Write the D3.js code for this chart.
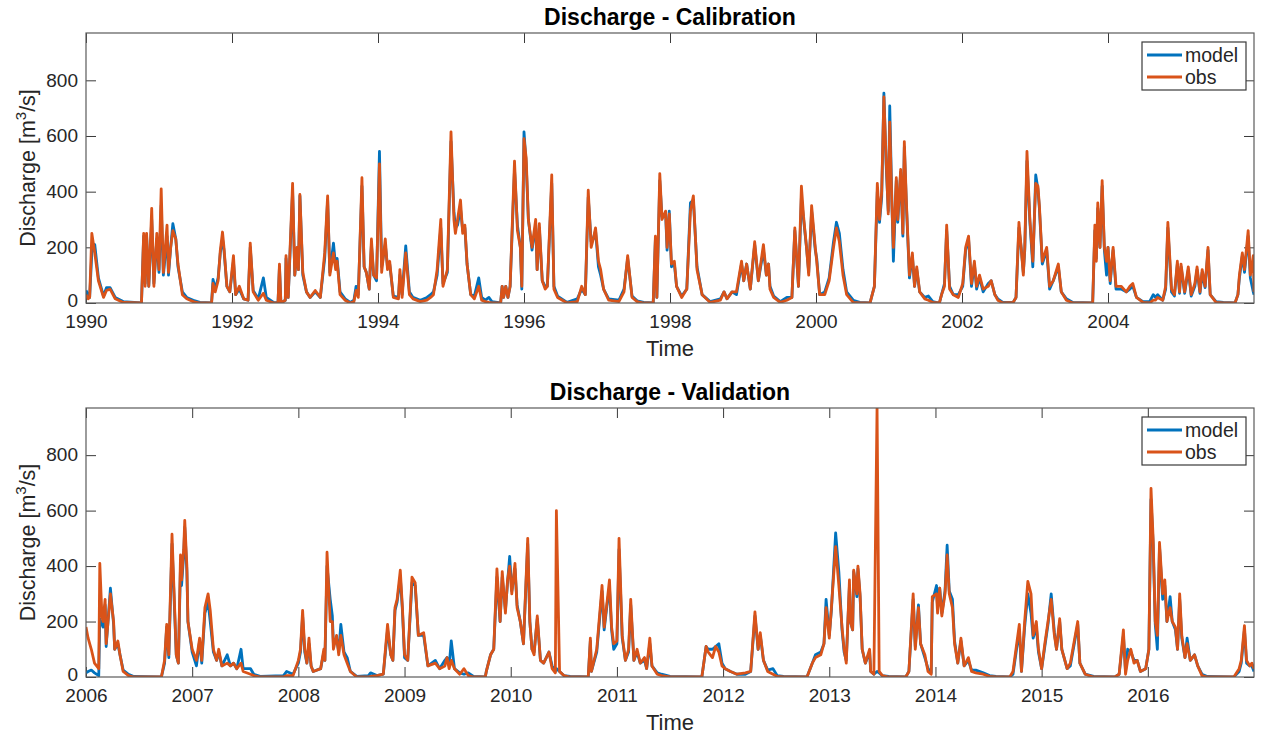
<!DOCTYPE html>
<html>
<head>
<meta charset="utf-8">
<script src="https://cdn.jsdelivr.net/npm/d3@7"></script>
<style>
  body { margin: 0; background: #fff; }
  text { font-family: "Liberation Sans", Arial, Helvetica, sans-serif; }
</style>
</head>
<body>
<div id="chart"></div>
<script>
// ---- data (decimal years, discharge m3/s) ----
var calTime = [
  1990.00,1990.03,1990.05,1990.08,1990.12,1990.17,1990.24,1990.28,1990.33,1990.40,
  1990.51,1990.76,1990.79,1990.81,1990.83,1990.86,1990.90,1990.93,1990.97,1991.00,
  1991.03,1991.06,1991.11,1991.13,1991.16,1991.19,1991.23,1991.26,1991.32,1991.38,
  1991.47,1991.56,1991.72,1991.74,1991.77,1991.81,1991.84,1991.87,1991.89,1991.93,
  1991.97,1992.02,1992.05,1992.10,1992.16,1992.22,1992.25,1992.29,1992.36,1992.43,
  1992.47,1992.57,1992.63,1992.65,1992.67,1992.73,1992.74,1992.77,1992.83,1992.86,
  1992.89,1992.91,1992.93,1992.97,1993.02,1993.07,1993.14,1993.21,1993.27,1993.31,
  1993.34,1993.39,1993.42,1993.44,1993.48,1993.55,1993.62,1993.67,1993.70,1993.73,
  1993.78,1993.81,1993.84,1993.88,1993.91,1993.94,1993.98,1994.02,1994.05,1994.10,
  1994.13,1994.16,1994.21,1994.28,1994.30,1994.33,1994.38,1994.43,1994.48,
  1994.58,1994.67,1994.72,1994.76,1994.81,1994.86,1994.89,1994.95,1995.00,1995.04,
  1995.06,1995.09,1995.13,1995.16,1995.19,1995.22,1995.27,1995.32,1995.38,1995.42,
  1995.47,1995.52,1995.56,1995.68,1995.70,1995.72,1995.75,1995.78,1995.81,1995.87,
  1995.91,1995.95,1995.97,1996.00,1996.03,1996.06,1996.11,1996.16,1996.18,1996.21,
  1996.25,1996.29,1996.32,1996.38,1996.41,1996.46,1996.59,1996.73,1996.79,1996.84,
  1996.88,1996.92,1996.95,1996.98,1997.02,1997.05,1997.09,1997.16,1997.30,1997.37,
  1997.42,1997.48,1997.55,1997.64,1997.77,1997.80,1997.82,1997.86,1997.89,1997.94,
  1997.96,1997.99,1998.02,1998.06,1998.09,1998.16,1998.23,1998.28,1998.32,1998.37,
  1998.44,1998.55,1998.69,1998.74,1998.78,1998.85,1998.91,1998.98,1999.01,1999.05,
  1999.10,1999.16,1999.21,1999.28,1999.32,1999.35,1999.37,1999.42,1999.51,1999.60,
  1999.67,1999.71,1999.76,1999.80,1999.83,1999.87,1999.90,1999.94,1999.99,2000.01,
  2000.05,2000.12,2000.18,2000.24,2000.28,
  2000.32,2000.37,2000.42,2000.51,2000.60,2000.74,2000.76,2000.80,2000.84,2000.87,
  2000.90,2000.93,2000.96,2000.99,2001.01,2001.04,2001.06,2001.10,2001.12,2001.16,
  2001.19,2001.21,2001.24,2001.28,2001.32,2001.35,2001.38,2001.42,2001.49,2001.54,
  2001.60,2001.69,2001.72,2001.76,2001.79,2001.83,2001.88,2001.95,2002.01,2002.05,
  2002.09,2002.13,2002.17,2002.20,2002.24,2002.29,2002.36,2002.40,2002.45,2002.49,
  2002.56,2002.70,2002.74,2002.78,2002.81,2002.84,2002.86,2002.89,2002.93,2002.97,
  2003.01,2003.04,2003.06,2003.10,2003.16,2003.20,2003.25,2003.32,2003.36,2003.43,
  2003.52,2003.79,2003.82,2003.84,2003.86,2003.89,2003.92,2003.95,2003.98,2004.00,
  2004.03,2004.07,2004.11,2004.18,2004.25,2004.30,2004.34,2004.39,2004.48,2004.57,
  2004.62,2004.65,2004.68,2004.75,2004.79,2004.82,2004.87,2004.91,2004.95,2004.98,
  2005.00,2005.05,2005.10,2005.14,2005.19,2005.22,2005.26,2005.29,2005.33,2005.37,
  2005.40,2005.48,2005.58,2005.74,2005.78,2005.80,2005.84,2005.87,2005.92,2005.95,
  2005.99,2006.00
];
var calObs = [
  30,15,20,250,180,80,20,45,50,15,
  2,0,250,60,250,60,340,60,250,120,
  410,110,280,110,200,260,230,140,30,15,
  5,0,0,70,40,80,190,255,200,60,
  40,170,30,60,15,10,215,40,10,35,
  10,0,0,140,0,10,170,20,430,100,
  200,120,390,110,40,20,45,20,180,385,
  100,180,120,150,30,10,0,5,45,20,
  450,130,110,50,230,100,90,500,110,230,
  120,150,20,15,120,20,180,30,15,
  5,10,20,30,120,300,60,120,615,300,
  250,300,370,250,280,140,30,15,60,10,
  5,2,0,0,60,20,60,20,60,510,
  260,200,60,590,520,300,200,300,120,285,
  80,50,60,460,50,20,0,5,60,30,
  405,200,230,270,150,120,50,10,5,40,
  170,20,5,0,0,240,20,465,300,330,
  200,320,140,150,60,20,50,330,385,120,
  30,2,10,40,15,40,40,150,80,140,
  50,220,80,210,100,140,50,20,2,10,
  20,270,60,420,310,200,100,350,200,150,
  30,30,80,200,270,
  220,100,30,2,0,0,20,60,430,300,
  400,740,520,320,650,350,200,450,300,480,
  250,580,350,100,180,60,130,40,15,10,
  2,0,30,60,280,50,30,20,70,200,
  240,70,150,60,100,50,60,80,30,10,
  0,2,20,290,200,100,200,545,300,150,
  430,420,350,150,200,60,80,140,40,10,
  0,0,280,150,360,200,440,200,150,200,
  80,200,60,60,40,60,70,20,2,0,
  10,10,20,10,60,290,50,30,150,40,
  140,40,130,30,70,130,40,120,60,200,
  30,2,0,0,30,100,180,120,260,100,
  170,40
];
var calModel = [
  45,30,20,180,210,90,25,55,55,20,
  5,0,240,70,240,60,300,70,230,110,
  350,100,240,100,200,285,230,130,40,20,
  10,2,0,85,50,90,180,230,190,60,
  40,150,30,50,15,10,200,45,15,90,
  20,2,0,130,0,10,160,20,400,100,
  190,120,385,100,40,20,40,20,160,370,
  110,215,130,160,40,15,2,10,60,30,
  420,130,110,50,210,100,80,545,130,210,
  130,140,25,20,100,30,205,40,20,
  10,20,30,40,100,270,70,110,580,330,
  270,280,340,260,270,140,30,25,90,20,
  10,20,5,0,60,20,60,20,60,480,
  280,200,50,615,500,300,190,280,120,270,
  80,60,60,430,60,25,2,15,50,30,
  380,220,230,260,130,100,50,15,10,50,
  160,25,8,2,0,230,20,440,310,320,
  190,330,130,140,60,25,50,360,370,130,
  30,5,15,40,15,40,30,140,80,140,
  50,210,80,190,100,140,60,25,5,20,
  20,260,60,380,300,200,110,330,190,160,
  30,40,90,220,290,
  250,120,40,10,2,0,20,60,400,290,
  380,754,500,330,708,360,150,440,290,470,
  240,560,340,90,170,60,120,40,20,25,
  5,0,30,70,260,60,30,30,60,190,
  230,60,140,50,90,40,70,80,30,15,
  2,2,20,270,200,110,190,510,290,130,
  460,410,340,140,190,50,80,130,40,15,
  2,0,260,160,340,200,420,190,100,200,
  70,190,50,50,40,50,60,20,5,5,
  30,20,30,10,50,270,40,25,140,35,
  130,35,120,25,60,120,35,110,55,190,
  30,5,2,0,30,90,170,110,240,90,
  40,30
];

var valTime = [
  2006.00,2006.02,2006.05,2006.08,2006.12,2006.13,2006.15,2006.16,2006.18,2006.19,
  2006.23,2006.26,2006.27,2006.30,2006.32,2006.35,2006.40,2006.45,2006.71,2006.74,
  2006.76,2006.78,2006.81,2006.83,2006.85,2006.87,2006.89,2006.90,2006.92,2006.93,
  2006.95,2006.96,2007.00,2007.04,2007.07,2007.09,2007.12,2007.15,2007.17,2007.20,
  2007.23,2007.25,2007.28,2007.33,2007.36,2007.39,2007.42,2007.46,2007.48,2007.55,
  2007.58,2007.64,2007.86,2007.89,2007.95,2008.00,2008.02,2008.04,2008.06,2008.08,
  2008.10,2008.12,2008.14,2008.21,2008.24,2008.25,2008.27,2008.30,2008.32,2008.33,
  2008.36,2008.38,2008.40,2008.43,2008.46,2008.49,2008.55,2008.66,2008.68,2008.74,
  2008.80,2008.84,2008.87,2008.89,2008.91,2008.93,2008.96,2008.98,2009.00,2009.03,
  2009.07,2009.10,2009.13,
  2009.18,2009.22,2009.29,2009.33,2009.38,2009.40,2009.42,2009.44,2009.47,2009.52,
  2009.56,2009.60,2009.65,2009.76,2009.77,2009.81,2009.84,2009.87,2009.90,2009.92,
  2009.95,2009.97,2009.99,2010.01,2010.04,2010.06,2010.09,2010.12,2010.16,2010.18,
  2010.20,2010.22,2010.25,2010.28,2010.31,2010.36,2010.39,2010.42,2010.43,2010.46,
  2010.50,2010.56,2010.73,2010.75,2010.76,2010.81,2010.86,2010.88,2010.91,2010.93,
  2010.95,2010.97,2011.00,2011.02,2011.05,2011.08,2011.11,2011.13,2011.16,2011.19,
  2011.22,2011.26,2011.28,2011.31,2011.33,2011.38,2011.42,2011.50,2011.80,2011.84,
  2011.86,2011.90,2011.93,2011.96,2011.99,2012.02,2012.07,2012.13,2012.21,2012.26,
  2012.30,2012.33,2012.35,2012.38,2012.42,2012.47,2012.51,2012.57,2012.79,2012.84,
  2012.87,2012.92,2012.95,2012.97,2013.00,2013.02,2013.06,2013.09,
  2013.12,2013.14,2013.16,2013.19,2013.20,2013.22,2013.23,2013.26,2013.27,2013.29,
  2013.31,2013.34,2013.38,2013.39,2013.42,2013.45,2013.47,2013.50,2013.56,2013.72,
  2013.75,2013.79,2013.81,2013.84,2013.86,2013.90,2013.93,2013.96,2013.97,2014.01,
  2014.02,2014.04,2014.06,2014.09,2014.11,2014.13,2014.16,2014.18,2014.21,2014.24,
  2014.27,2014.31,2014.34,2014.38,2014.45,2014.51,2014.57,2014.70,2014.73,2014.79,
  2014.81,2014.84,2014.87,2014.90,2014.92,2014.95,2014.97,2015.00,2015.03,2015.06,
  2015.09,2015.12,2015.14,2015.17,2015.19,2015.24,2015.27,2015.34,2015.36,2015.41,
  2015.49,2015.69,2015.73,2015.77,2015.79,2015.81,2015.84,2015.87,2015.90,2015.93,
  2015.98,2016.01,2016.03,2016.05,2016.07,2016.09,2016.11,2016.14,2016.16,2016.18,
  2016.21,2016.23,2016.26,2016.28,2016.30,2016.32,2016.35,2016.37,2016.40,2016.44,
  2016.47,2016.51,2016.56,2016.81,2016.86,2016.88,2016.91,2016.93,2016.96,2016.98,
  2017.00
];
var valObs = [
  180,140,100,50,30,410,220,200,280,120,
  300,200,100,130,80,20,5,0,0,60,
  190,80,515,300,80,50,440,350,460,565,
  400,200,100,60,140,60,250,300,240,100,
  60,100,40,50,40,50,30,50,20,10,
  5,0,0,5,5,60,100,240,100,50,
  140,40,20,30,100,60,450,200,200,100,
  150,80,150,80,50,20,0,0,2,5,
  10,190,80,60,250,280,385,250,80,60,
  360,340,150,
  160,40,50,30,40,70,30,60,30,10,
  30,5,0,0,20,80,100,390,200,380,
  230,350,400,300,410,250,200,120,500,200,
  100,80,220,60,50,90,30,15,600,20,
  5,0,0,140,20,100,330,180,280,350,
  180,120,130,500,150,60,100,280,60,100,
  50,70,30,140,40,10,5,0,0,110,
  90,70,110,90,40,30,20,10,15,20,
  235,100,160,60,20,10,2,0,0,50,
  70,80,120,250,140,250,470,330,
  180,100,50,350,200,170,385,300,400,300,
  100,50,100,20,10,970,20,5,0,0,
  20,300,100,250,120,80,20,10,290,300,
  230,320,220,300,440,300,250,120,50,140,
  40,70,20,15,10,2,0,0,20,190,
  20,200,345,300,150,200,100,30,120,200,
  280,150,100,210,100,30,50,200,50,10,
  0,0,10,170,10,60,100,50,60,20,
  30,100,680,500,200,150,485,300,350,200,
  250,200,180,100,300,150,70,120,60,80,
  40,5,0,0,30,60,185,60,40,50,
  30
];
var valModel = [
  15,20,25,15,5,210,190,180,260,110,
  320,190,100,120,80,25,10,2,0,50,
  180,70,480,280,80,50,400,330,440,540,
  380,200,90,40,130,50,230,270,200,90,
  60,90,40,80,40,50,30,100,30,30,
  10,2,5,20,10,50,90,220,90,50,
  120,40,20,30,90,60,400,280,220,120,
  140,90,190,90,70,20,2,5,15,5,
  10,170,80,60,240,270,360,240,70,60,
  340,330,150,
  150,40,60,30,60,70,40,130,30,15,
  10,15,2,0,20,80,100,360,200,360,
  240,340,435,310,390,260,200,120,480,200,
  100,90,210,60,50,90,40,20,30,20,
  5,2,0,130,20,90,310,170,270,320,
  170,100,120,460,140,60,90,260,60,90,
  50,60,30,120,40,15,10,2,0,110,
  100,100,110,120,50,30,20,10,10,20,
  220,100,150,60,25,30,5,2,0,50,
  80,90,120,280,150,240,520,380,
  170,90,60,330,200,170,380,290,390,290,
  100,50,90,20,10,20,15,5,2,0,
  20,280,110,260,120,70,30,15,270,330,
  250,320,230,310,475,310,280,130,50,130,
  40,60,25,25,15,5,2,0,10,170,
  20,180,300,230,140,180,90,30,110,190,
  300,160,100,200,100,30,40,190,50,10,
  2,0,10,150,20,100,90,60,60,20,
  30,100,640,480,190,100,470,280,330,200,
  290,200,170,100,280,140,70,140,60,80,
  40,10,2,0,20,50,170,50,40,40,
  20
];

var yTicks = [0, 200, 400, 600, 800];
var calYears = [1990, 1992, 1994, 1996, 1998, 2000, 2002, 2004];
var valYears = [2006, 2007, 2008, 2009, 2010, 2011, 2012, 2013, 2014, 2015, 2016];
var seriesNames = ["model", "obs"];
var seriesColors = ["#0072BD", "#D95319"];

// ---- layout ----
var W = 1265, H = 738;
var left = 86, right = 1254;
var tickLen = 10;
var tickColor = "#3a3a3a";
var boxColor = "#5a5a5a";
var tickFont = "19px";

var svg = d3.select("#chart").append("svg")
  .attr("width", W).attr("height", H)
  .style("background", "#fff");

function drawPanel(p) {
  var x = d3.scaleLinear().domain(p.xDomain).range([left, right]);
  var y = d3.scaleLinear().domain([0, 970]).range([p.bottom, p.top]);

  var g = svg.append("g");

  g.append("clipPath").attr("id", "clip" + p.id)
    .append("rect")
    .attr("x", left).attr("y", p.top)
    .attr("width", right - left).attr("height", p.bottom - p.top);

  // ticks, all pointing inside (box on, like matlab)
  var xb = g.append("g").attr("transform", "translate(0," + p.bottom + ")")
    .call(d3.axisBottom(x).tickValues(p.years).tickFormat(d3.format("d"))
      .tickSizeInner(-tickLen).tickSizeOuter(0).tickPadding(12));
  var xt = g.append("g").attr("transform", "translate(0," + p.top + ")")
    .call(d3.axisTop(x).tickValues(p.years).tickFormat("")
      .tickSizeInner(-tickLen).tickSizeOuter(0));
  var yl = g.append("g").attr("transform", "translate(" + left + ",0)")
    .call(d3.axisLeft(y).tickValues(yTicks)
      .tickSizeInner(-tickLen).tickSizeOuter(0).tickPadding(8));
  var yr = g.append("g").attr("transform", "translate(" + right + ",0)")
    .call(d3.axisRight(y).tickValues(yTicks).tickFormat("")
      .tickSizeInner(-tickLen).tickSizeOuter(0));

  [xb, xt, yl, yr].forEach(function(a) {
    a.select(".domain").remove();
    a.selectAll(".tick line").attr("stroke", tickColor);
    a.selectAll(".tick text")
      .attr("fill", "#262626")
      .style("font-size", tickFont)
      .style("font-family", "'Liberation Sans', Arial, sans-serif");
  });
  yl.selectAll(".tick text").attr("dy", "0.3em");
  // keep the "0" label clear of the first year label below it
  yl.selectAll(".tick text").filter(function(d) { return d === 0; }).attr("dy", "0.2em");

  // lines: model first, obs drawn over it
  var line = d3.line()
    .x(function(d) { return x(d[0]); })
    .y(function(d) { return y(d[1]); });

  var lines = g.append("g").attr("clip-path", "url(#clip" + p.id + ")");
  [p.model, p.obs].forEach(function(vals, i) {
    lines.append("path")
      .datum(d3.zip(p.time, vals))
      .attr("d", line)
      .attr("fill", "none")
      .attr("stroke", seriesColors[i])
      .attr("stroke-width", 2.8)
      .attr("stroke-linejoin", "round");
  });

  // box
  g.append("rect")
    .attr("x", left).attr("y", p.top)
    .attr("width", right - left).attr("height", p.bottom - p.top)
    .attr("fill", "none").attr("stroke", boxColor).attr("stroke-width", 1.2);

  // title
  g.append("text")
    .attr("x", 670).attr("y", p.top - 8)
    .attr("text-anchor", "middle")
    .style("font-size", "23px").style("font-weight", "bold")
    .attr("fill", "#000")
    .text(p.title);

  // x label
  g.append("text")
    .attr("x", 670).attr("y", p.bottom + 53)
    .attr("text-anchor", "middle")
    .style("font-size", "22px")
    .attr("fill", "#262626")
    .text("Time");

  // y label
  var ylab = g.append("text")
    .attr("transform", "translate(35," + ((p.top + p.bottom) / 2) + ") rotate(-90)")
    .attr("text-anchor", "middle")
    .style("font-size", "21.5px")
    .attr("fill", "#262626");
  ylab.append("tspan").text("Discharge [m");
  ylab.append("tspan").attr("dy", -9).style("font-size", "15px").text("3");
  ylab.append("tspan").attr("dy", 9).text("/s]");

  // legend
  var lx = 1142, ly = p.top + 9;
  var leg = g.append("g");
  leg.append("rect")
    .attr("x", lx).attr("y", ly).attr("width", 104).attr("height", 48)
    .attr("fill", "#fff").attr("stroke", tickColor).attr("stroke-width", 1.2);
  seriesNames.forEach(function(name, i) {
    var yy = ly + 13 + i * 22;
    leg.append("line")
      .attr("x1", lx + 5).attr("x2", lx + 40)
      .attr("y1", yy).attr("y2", yy)
      .attr("stroke", seriesColors[i]).attr("stroke-width", 2.8);
    leg.append("text")
      .attr("x", lx + 43).attr("y", yy)
      .attr("dy", "0.35em")
      .style("font-size", "19.5px")
      .attr("fill", "#262626")
      .text(name);
  });
}

drawPanel({ id: 1, top: 33, bottom: 303, xDomain: [1990, 2006], years: calYears,
  time: calTime, obs: calObs, model: calModel, title: "Discharge - Calibration" });
drawPanel({ id: 2, top: 408, bottom: 677, xDomain: [2006, 2017], years: valYears,
  time: valTime, obs: valObs, model: valModel, title: "Discharge - Validation" });

if (calTime.length !== calObs.length || calTime.length !== calModel.length ||
    valTime.length !== valObs.length || valTime.length !== valModel.length) {
  console.error("length mismatch", calTime.length, calObs.length, calModel.length,
    valTime.length, valObs.length, valModel.length);
}
</script>
</body>
</html>
